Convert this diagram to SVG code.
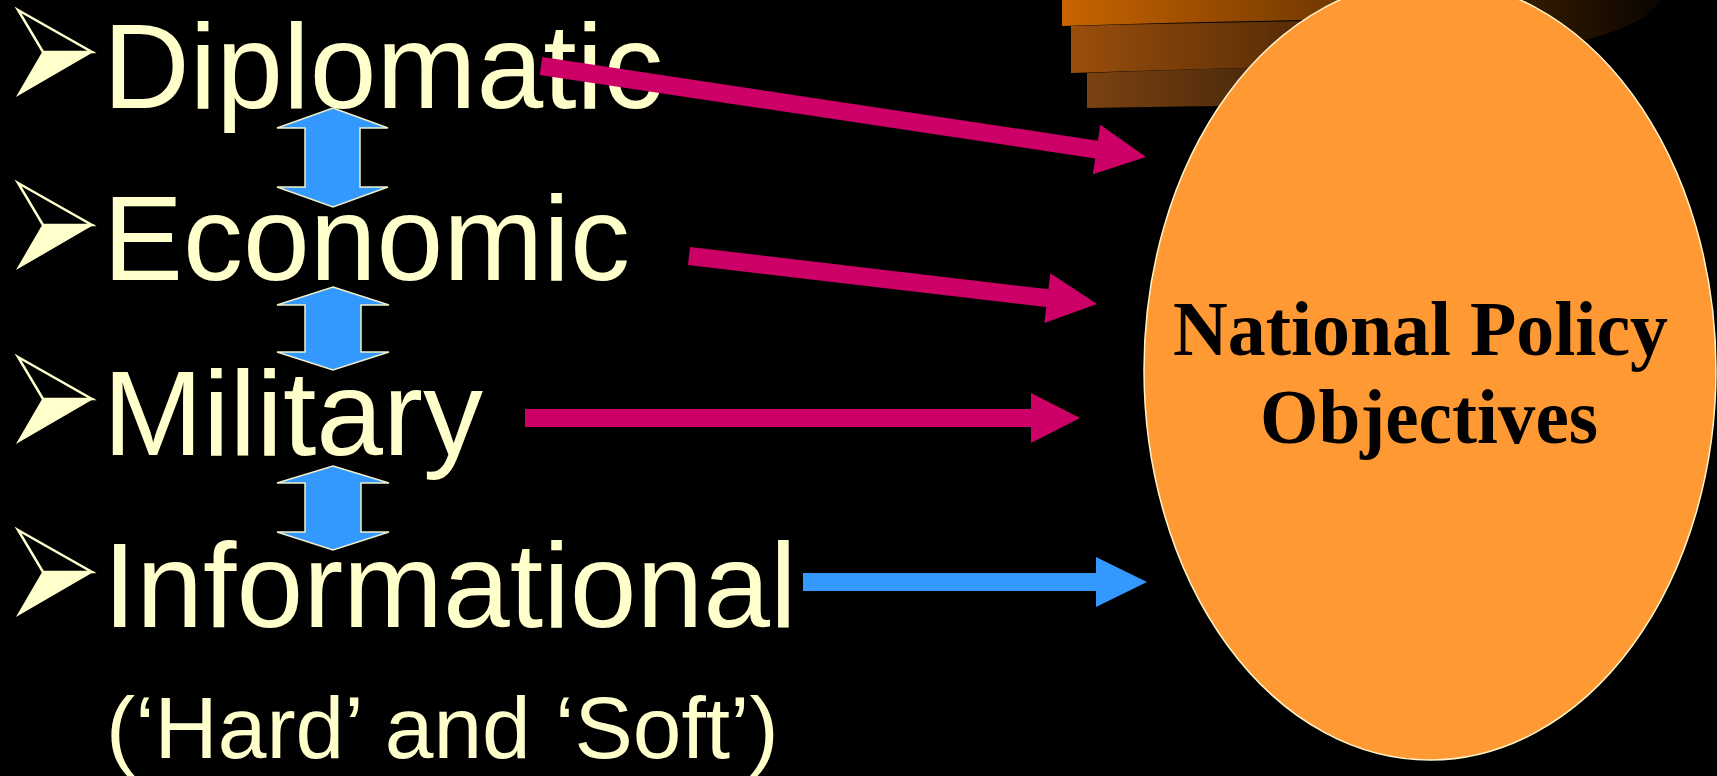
<svg xmlns="http://www.w3.org/2000/svg" xmlns:xlink="http://www.w3.org/1999/xlink" width="1717" height="776" viewBox="0 0 1717 776">
  <style>
    .item { font-family: "Liberation Sans", Arial, sans-serif; font-size: 120px; fill: #FFFFCC; }
    .sub { font-family: "Liberation Sans", Arial, sans-serif; font-size: 87.5px; fill: #FFFFCC; }
    .goal { font-family: "Liberation Serif", "Times New Roman", serif; font-size: 78px; font-weight: bold; fill: #000000; }
    .pink { fill: #CC0066; }
    .blue { fill: #3399FF; }
    .dbl { fill: #3399FF; stroke: #F2EFC8; stroke-width: 1.5; stroke-linejoin: miter; }
  </style>
  <defs>
    <g id="bullet">
      <polygon points="18,0 92,42 43,42" fill="none" stroke="#FFFFCC" stroke-width="2.5" stroke-linejoin="miter"/>
      <polygon points="43,42 92,42 18,85" fill="#FFFFCC" stroke="#FFFFCC" stroke-width="1.5"/>
    </g>
    <linearGradient id="g1" gradientUnits="userSpaceOnUse" x1="1062" y1="0" x2="1660" y2="0">
      <stop offset="0" stop-color="#C86400"/>
      <stop offset="1" stop-color="#0A0500"/>
    </linearGradient>
    <linearGradient id="g2" gradientUnits="userSpaceOnUse" x1="1071" y1="0" x2="1560" y2="0">
      <stop offset="0" stop-color="#9A4E0C"/>
      <stop offset="1" stop-color="#0A0500"/>
    </linearGradient>
    <linearGradient id="g3" gradientUnits="userSpaceOnUse" x1="1087" y1="0" x2="1500" y2="0">
      <stop offset="0" stop-color="#7A4212"/>
      <stop offset="1" stop-color="#0A0500"/>
    </linearGradient>
  </defs>

  <rect x="0" y="0" width="1717" height="776" fill="#000000"/>

  <g id="stack">
    <path d="M1062,0 L1662,0 C1645,22 1615,32 1585,40 L1420,45 L1310,20 Q1180,22 1062,26 Z" fill="url(#g1)"/>
    <path d="M1071,26 Q1180,23 1320,21 L1320,66 Q1190,69 1071,73 Z" fill="url(#g2)"/>
    <path d="M1087,73 Q1190,69 1320,66 L1320,105 Q1200,106 1087,108 Z" fill="url(#g3)"/>
  </g>

  <g id="diplomatic">
    <use xlink:href="#bullet" href="#bullet" transform="translate(0,10)"/>
    <text class="item" x="103" y="108">Diplomatic</text>
  </g>
  <g id="economic">
    <use xlink:href="#bullet" href="#bullet" transform="translate(0,183)"/>
    <text class="item" x="103" y="280">Economic</text>
  </g>
  <g id="military">
    <use xlink:href="#bullet" href="#bullet" transform="translate(0,357)"/>
    <text class="item" x="103" y="455">Military</text>
  </g>
  <g id="informational">
    <use xlink:href="#bullet" href="#bullet" transform="translate(0,530)"/>
    <text class="item" x="103" y="627">Informational</text>
  </g>
  <g id="hard-soft">
    <text class="sub" x="106" y="758">(‘Hard’ and ‘Soft’)</text>
  </g>

  <g id="objectives">
    <ellipse cx="1430" cy="370" rx="286" ry="390" fill="#FF9933" stroke="#FFF3C8" stroke-width="1.5"/>
    <text class="goal" x="1173" y="355" textLength="495" lengthAdjust="spacingAndGlyphs">National Policy</text>
    <text class="goal" x="1260" y="443" textLength="338" lengthAdjust="spacingAndGlyphs">Objectives</text>
  </g>

  <g id="connectors">
    <polygon class="dbl" points="333,108 388,128 360,128 360,187 388,187 333,207 277,187 305,187 305,128 277,128"/>
    <polygon class="dbl" points="333,287 389,305 361,305 361,352 389,352 333,370 277,352 305,352 305,305 277,305"/>
    <polygon class="dbl" points="333,466 389,483 361,483 361,532 389,532 333,550 277,532 305,532 305,483 277,483"/>

    <polygon class="pink" transform="translate(541,66) rotate(8.554)" points="0,-9 561.8,-9 561.8,-25 611.8,0 561.8,25 561.8,9 0,9"/>
    <polygon class="pink" transform="translate(689,256) rotate(6.71)" points="0,-9 360.8,-9 360.8,-25 410.8,0 360.8,25 360.8,9 0,9"/>
    <polygon class="pink" points="525,409 1031,409 1031,393 1080,418 1031,443 1031,427 525,427"/>
    <polygon class="blue" points="803,573 1096,573 1096,557 1147,582 1096,607 1096,591 803,591"/>
  </g>
</svg>
